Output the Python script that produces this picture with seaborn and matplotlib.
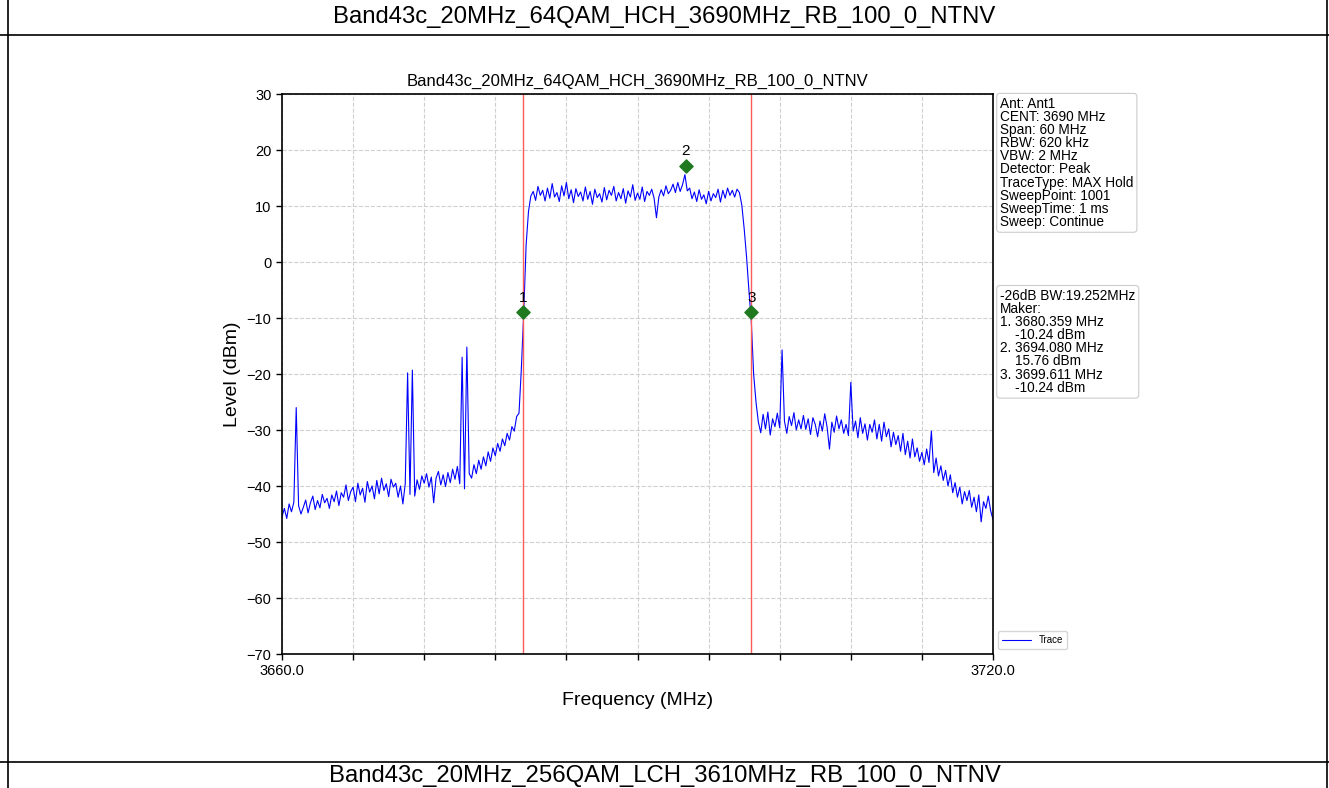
import numpy as np
import matplotlib
matplotlib.use("Agg")
import matplotlib.pyplot as plt
from matplotlib.lines import Line2D
import seaborn as sns

# --- data ---
title = "Band43c_20MHz_64QAM_HCH_3690MHz_RB_100_0_NTNV"
next_title = "Band43c_20MHz_256QAM_LCH_3610MHz_RB_100_0_NTNV"

f_start, f_stop = 3660.0, 3720.0
# trace level (dBm), one value every 0.2 MHz from 3660.0 to 3720.0
level = [
    -45.5, -44.0, -45.8, -43.2, -44.6, -42.9, -26.0, -43.5, -45.0, -43.8,
    -42.5, -44.8, -43.0, -41.8, -44.2, -42.6, -43.9, -41.5, -43.0, -42.2,
    -44.0, -41.6, -42.8, -40.9, -43.5, -41.2, -42.0, -39.8, -42.6, -41.0,
    -40.2, -42.8, -39.5, -41.6, -40.4, -42.9, -39.2, -41.1, -40.0, -42.3,
    -39.0, -41.4, -38.6, -40.8, -39.6, -41.9, -38.8, -40.2, -39.5, -42.0,
    -40.0, -43.2, -39.6, -19.8, -41.5, -19.3, -41.8, -38.9, -40.6, -38.2,
    -39.5, -37.8, -40.2, -38.4, -43.0, -38.6, -37.4, -39.8, -38.0, -40.1,
    -37.6, -39.4, -37.0, -38.8, -36.5, -39.6, -17.0, -40.5, -15.2, -37.8,
    -38.6, -36.2, -37.8, -35.4, -37.0, -34.8, -36.4, -33.9, -35.6, -33.2,
    -34.6, -32.4, -33.8, -31.6, -32.8, -30.6, -31.8, -29.4, -30.2, -27.6,
    -27.0, -19.0, -9.0, 3.0, 9.0, 11.8, 12.6, 11.0, 13.5, 11.9,
    12.8, 10.9, 13.2, 11.4, 14.0, 11.6, 12.4, 10.8, 13.6, 11.8,
    14.2, 11.3, 12.9, 10.6, 13.1, 11.7, 12.5, 10.9, 13.4, 11.2,
    12.6, 10.3, 13.0, 11.5, 12.2, 10.7, 13.3, 11.1, 12.8, 11.9,
    13.5, 10.9, 12.4, 11.3, 13.1, 10.5, 12.7, 11.6, 13.8, 11.0,
    12.3, 11.2, 13.4, 10.8, 12.6, 11.9, 13.0, 11.4, 7.9, 11.6,
    12.9, 11.8, 13.6, 12.2, 12.8, 13.9, 12.4, 14.2, 12.6, 13.8,
    15.6, 12.7, 13.2, 11.3, 12.5, 10.8, 12.9, 11.2, 12.0, 10.4,
    12.6, 10.9, 12.2, 11.5, 13.0, 10.7, 12.8, 11.4, 13.2, 11.9,
    12.8, 11.6, 13.0, 12.4, 10.2, 6.0, 1.0, -5.0, -10.5, -20.0,
    -25.0, -28.6, -30.5, -27.2, -29.8, -26.8, -30.9, -28.0, -29.4, -27.0,
    -29.6, -15.7, -28.4, -30.6, -27.6, -29.2, -26.9, -30.0, -28.2, -29.8,
    -27.4, -29.9, -28.0, -30.8, -27.8, -29.0, -31.2, -28.4, -30.2, -27.1,
    -29.5, -33.4, -28.6, -30.4, -27.5, -29.8, -28.2, -30.6, -29.0, -31.0,
    -21.5, -30.2, -28.4, -31.4, -27.8, -30.6, -28.9, -31.8, -29.0, -30.4,
    -28.2, -31.6, -29.0, -32.0, -28.6, -31.2, -29.8, -33.0, -30.4, -32.6,
    -31.0, -33.8, -30.6, -34.4, -32.0, -35.0, -31.6, -34.8, -33.2, -35.6,
    -34.0, -36.2, -33.4, -35.8, -30.2, -37.6, -35.0, -38.2, -36.4, -39.0,
    -37.2, -40.0, -38.0, -41.2, -39.4, -42.0, -40.2, -43.2, -41.0, -42.6,
    -40.8, -43.8, -42.0, -44.6, -41.6, -46.4, -42.8, -44.0, -41.8, -44.4,
    -46.0,
]
freq = np.linspace(f_start, f_stop, len(level))

marker_freq = [3680.359, 3694.080, 3699.611]
marker_plot = [-8.9, 17.2, -8.9]          # where the diamonds sit in the picture
marker_names = ["1", "2", "3"]
obw_lines = [3680.359, 3699.611]

settings = ("Ant: Ant1\nCENT: 3690 MHz\nSpan: 60 MHz\nRBW: 620 kHz\nVBW: 2 MHz\n"
            "Detector: Peak\nTraceType: MAX Hold\nSweepPoint: 1001\n"
            "SweepTime: 1 ms\nSweep: Continue")
results = ("-26dB BW:19.252MHz\nMaker:\n1. 3680.359 MHz\n    -10.24 dBm\n"
           "2. 3694.080 MHz\n    15.76 dBm\n3. 3699.611 MHz\n    -10.24 dBm")

yticks = list(range(-70, 31, 10))
xticks = list(range(3660, 3721, 6))

# --- style ---
sns.set_style("ticks")
plt.rcParams['font.family'] = ['Liberation Sans', 'DejaVu Sans']
plt.rcParams.update({'text.color': 'black', 'axes.labelcolor': 'black',
                     'xtick.color': 'black', 'ytick.color': 'black'})

fig = plt.figure(figsize=(13.29, 7.88), dpi=100)

# document table around the picture
fig.text(0.5, 1 - 17 / 788, title, ha='center', va='center', fontsize=17.2)
fig.text(0.5, 1 - 776 / 788, next_title, ha='center', va='center', fontsize=17.2)
for yy in [1 - 35 / 788, 1 - 762 / 788]:
    fig.add_artist(Line2D([0, 1], [yy, yy], transform=fig.transFigure, color='black', lw=1.2))
for xx in [8 / 1329, 1327 / 1329]:
    fig.add_artist(Line2D([xx, xx], [0, 1], transform=fig.transFigure, color='black', lw=1.2))

ax = fig.add_axes([282 / 1329, 1 - 654 / 788, 711 / 1329, 560 / 788])
sns.lineplot(x=freq, y=level, color='blue', lw=0.8, label='Trace', ax=ax)

for fx in obw_lines:
    ax.axvline(fx, color='#ff5a5a', lw=1.0)

ax.scatter(marker_freq, marker_plot, marker='D', s=45, color='#1f7a1f', zorder=5)
for fx, fy, nm in zip(marker_freq, marker_plot, marker_names):
    ax.text(fx, fy + 1.3, nm, ha='center', va='bottom', fontsize=11)

ax.set_xlim(f_start, f_stop)
ax.set_ylim(-70, 30)
ax.set_yticks(yticks)
ax.set_xticks(xticks)
ax.set_xticklabels(["3660.0"] + [""] * (len(xticks) - 2) + ["3720.0"])
ax.tick_params(labelsize=10.5, length=4, width=1, direction='out')
ax.grid(True, linestyle='--', color='#d0d0d0', lw=0.8)
for sp in ax.spines.values():
    sp.set_color('black')
    sp.set_linewidth(1.2)

ax.set_title(title, fontsize=12, pad=6)
ax.set_xlabel("Frequency (MHz)", fontsize=14, labelpad=10)
ax.set_ylabel("Level (dBm)", fontsize=14)

box = dict(boxstyle='round,pad=0.25', fc='white', ec='#cccccc', lw=0.8)
ax.text(1.010, 0.995, settings, transform=ax.transAxes, ha='left', va='top',
        fontsize=9.8, linespacing=0.92, bbox=box)
ax.text(1.010, 0.652, results, transform=ax.transAxes, ha='left', va='top',
        fontsize=9.8, linespacing=0.92, bbox=box)

ax.legend(loc='lower left', bbox_to_anchor=(1.0, 0.0), fontsize=7,
          handlelength=3, frameon=True, edgecolor='#cccccc', fancybox=True)

fig.savefig("out.png", dpi=100)
